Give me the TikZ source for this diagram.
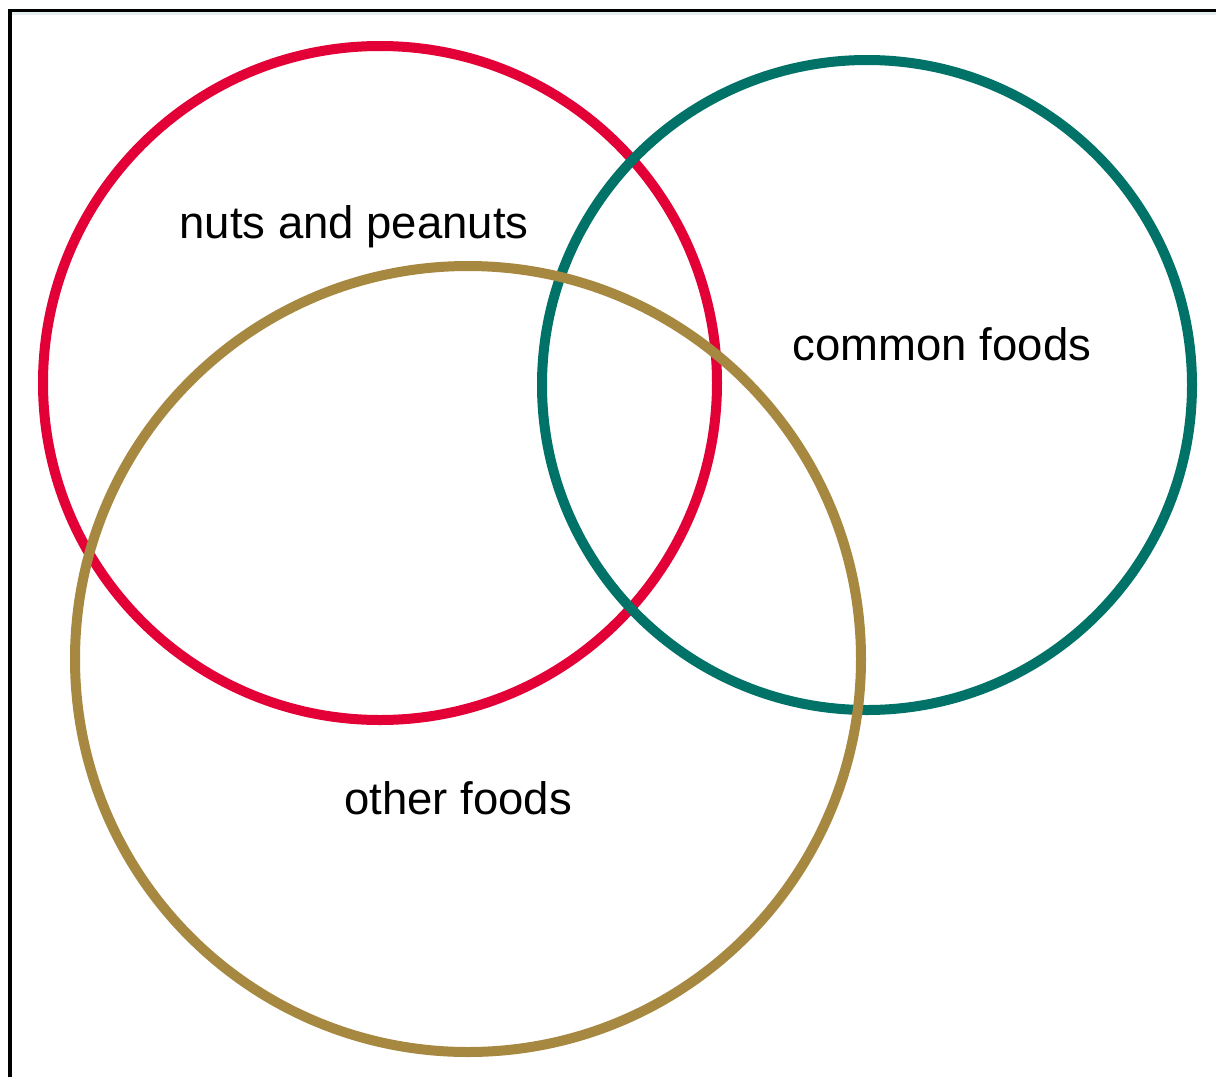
\documentclass[tikz,border=0pt]{standalone}
\usepackage{fontspec}
\setmainfont{Liberation Sans}
\definecolor{ringred}{RGB}{227,0,55}
\definecolor{ringteal}{RGB}{0,114,104}
\definecolor{ringtan}{RGB}{166,136,64}
\definecolor{edgeline}{RGB}{228,238,240}
\begin{document}
\begin{tikzpicture}[x=1pt,y=-1pt,
  ring/.style={line width=10pt},
  label/.style={font=\fontsize{45.5}{50}\selectfont, inner sep=0pt, anchor=base}]
\useasboundingbox (0,0) rectangle (1216,1077);
\fill[white] (0,0) rectangle (1216,1077);
% frame edges
\fill[edgeline] (10,11) rectangle (1216,15);
\fill[black] (8,9) rectangle (1216,11.5);
\fill[black] (8,9) rectangle (12,1077);
% the three sets
\draw[ring, ringred] (380,383) circle[radius=337];
\draw[ring, ringteal] (867,385) circle[radius=325];
\draw[ring, ringtan] (468,659) circle[radius=393];
% set names
\node[label] (nuts) at (354,238) {nuts and peanuts};
\node[label] (common) at (942,360) {common foods};
\node[label] (other) at (458,814) {other foods};
\end{tikzpicture}
\end{document}
